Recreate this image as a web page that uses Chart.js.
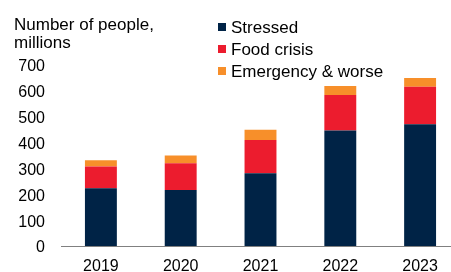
<!DOCTYPE html>
<html>
<head>
<meta charset="utf-8">
<script src="https://cdn.jsdelivr.net/npm/chart.js@4/dist/chart.umd.min.js"></script>
<style>
html,body{margin:0;padding:0;overflow:hidden;background:#fff;width:451px;height:272px;}
#wrap{position:relative;width:460px;height:272px;}
</style>
</head>
<body>
<div id="wrap"><canvas id="c" width="460" height="272"></canvas></div>
<script>
const categories = ['2019', '2020', '2021', '2022', '2023'];
const stressed = [223, 217, 281, 447, 471];
const foodCrisis = [84, 103, 129, 137, 145];
const emergency = [25, 30, 40, 35, 34];
const yTicks = [0, 100, 200, 300, 400, 500, 600, 700];
const titleLines = ['Number of people,', 'millions'];

const FONT = '"Liberation Sans", Arial, sans-serif';

const overlay = {
  id: 'overlay',
  afterDraw(chart) {
    const ctx = chart.ctx;
    ctx.save();
    ctx.font = '17px ' + FONT;
    ctx.fillStyle = '#000';
    ctx.textAlign = 'left';
    ctx.textBaseline = 'alphabetic';
    titleLines.forEach((t, i) => ctx.fillText(t, 14, 29.5 + i * 18));
    chart.data.datasets.forEach((ds, i) => {
      const y = 27 + i * 22;
      ctx.fillStyle = ds.backgroundColor;
      ctx.fillRect(218, y - 4, 8, 8);
      ctx.fillStyle = '#000';
      ctx.fillText(ds.label, 231, y + 6);
    });
    ctx.restore();
  }
};

new Chart(document.getElementById('c'), {
  type: 'bar',
  data: {
    labels: categories,
    datasets: [
      { label: 'Stressed', data: stressed, backgroundColor: '#002346' },
      { label: 'Food crisis', data: foodCrisis, backgroundColor: '#EC1C2E' },
      { label: 'Emergency & worse', data: emergency, backgroundColor: '#F78F2A' }
    ]
  },
  options: {
    responsive: false,
    animation: false,
    devicePixelRatio: 1,
    layout: { padding: { top: 65, left: 0, right: 0, bottom: 0 } },
    datasets: { bar: { barPercentage: 0.8, categoryPercentage: 0.5, borderWidth: 0 } },
    plugins: { legend: { display: false }, title: { display: false }, tooltip: { enabled: false } },
    scales: {
      x: {
        stacked: true,
        grid: { display: false, drawTicks: false },
        border: { display: true, color: '#808080', width: 1 },
        ticks: { color: '#000', font: { family: FONT, size: 16 }, padding: 10.5, maxRotation: 0 },
        afterFit(s) { s.height = 26; }
      },
      y: {
        stacked: true,
        min: 0,
        max: 700,
        afterBuildTicks(s) { s.ticks = yTicks.map(v => ({ value: v })); },
        grid: { display: false, drawTicks: false },
        border: { display: false },
        ticks: { color: '#000', font: { family: FONT, size: 16 }, padding: 16, labelOffset: 2 },
        afterFit(s) { s.width = 61; }
      }
    }
  },
  plugins: [overlay]
});
</script>
</body>
</html>
